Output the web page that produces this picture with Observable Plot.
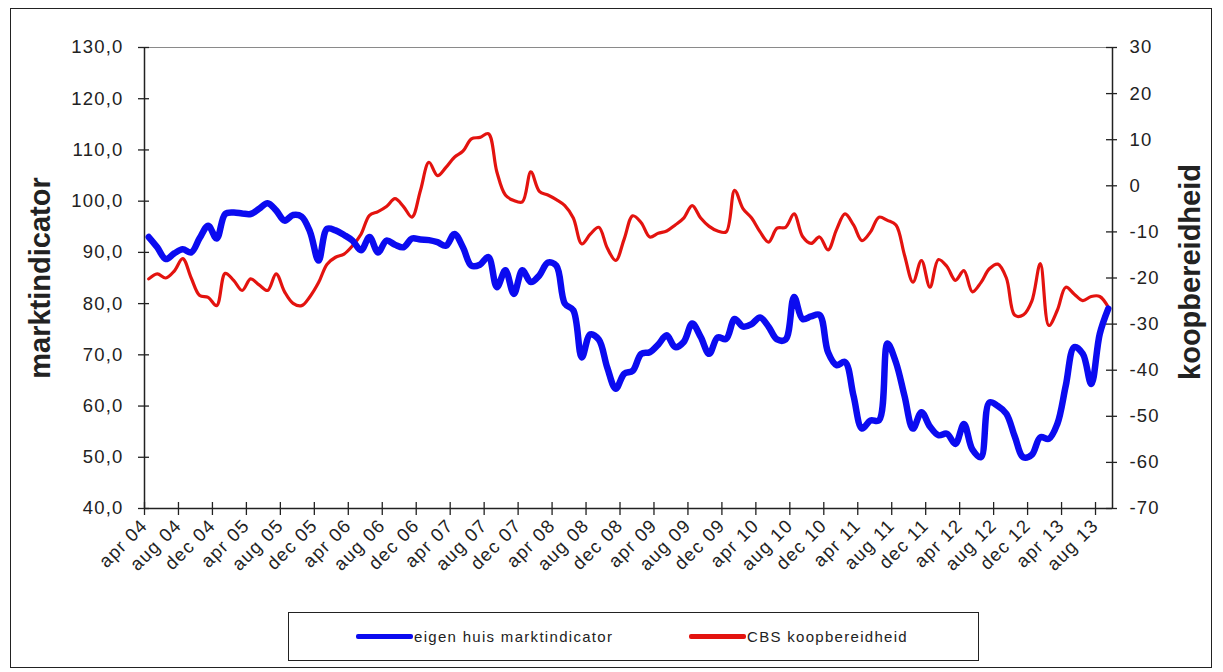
<!DOCTYPE html>
<html>
<head>
<meta charset="utf-8">
<script src="https://cdn.jsdelivr.net/npm/d3@7"></script>
<script src="https://cdn.jsdelivr.net/npm/@observablehq/plot@0.6"></script>
<style>
  body { margin: 0; background: #fff; font-family: "Liberation Sans", Arial, sans-serif; }
  #wrap { position: relative; width: 1223px; height: 672px; overflow: hidden; }
  #frame { position: absolute; left: 10px; top: 8px; width: 1202px; height: 660px; border: 1px solid #222; box-sizing: border-box; pointer-events: none; }
  #chart { position: absolute; left: 0; top: 0; }
  #legend { position: absolute; left: 288px; top: 612px; width: 691px; height: 49px; border: 1.5px solid #222; box-sizing: border-box; background: #fff; }
  .item { position: absolute; top: 0; height: 100%; display: flex; align-items: center; font-size: 15px; letter-spacing: 1.3px; color: #222; }
  .sw { display: inline-block; width: 57px; height: 5px; border-radius: 2px; margin-right: 1px; }
</style>
</head>
<body>
<div id="wrap">
  <div id="chart"></div>
  <div id="legend"></div>
  <div id="frame"></div>
</div>
<script>
// ---- Data (monthly, apr 2004 .. sep 2013) ----
const tickLabels = ["apr 04","aug 04","dec 04","apr 05","aug 05","dec 05","apr 06","aug 06","dec 06",
  "apr 07","aug 07","dec 07","apr 08","aug 08","dec 08","apr 09","aug 09","dec 09","apr 10","aug 10",
  "dec 10","apr 11","aug 11","dec 11","apr 12","aug 12","dec 12","apr 13","aug 13"];

// eigen huis marktindicator (left axis)
const marktindicator = [
  93.0, 91.0, 88.7, 89.8, 90.6, 90.0, 92.8, 95.2, 92.7, 97.5, 97.8, 97.6,
  97.5, 98.5, 99.6, 98.2, 96.2, 97.3, 97.0, 94.0, 88.4, 94.6, 94.3, 93.4,
  92.3, 90.4, 93.0, 90.0, 92.3, 91.5, 91.0, 92.7, 92.5, 92.4, 92.0, 91.3,
  93.6, 91.0, 87.4, 87.6, 89.1, 83.2, 86.5, 81.9, 86.5, 84.2, 85.5, 88.0,
  87.4, 80.0, 78.7, 69.5, 74.0, 73.0, 67.5, 63.4, 66.3, 66.9, 70.2, 70.5,
  72.0, 73.8, 71.5, 72.5, 76.1, 73.5, 70.2, 73.4, 73.1, 77.0, 75.5, 76.0,
  77.3, 75.5, 73.0, 73.0, 81.3, 77.0, 77.5, 77.8, 70.5, 68.0, 68.6, 62.0,
  55.6, 57.2, 57.2, 72.2, 68.5, 62.0, 55.6, 58.8, 56.0, 54.3, 54.6, 52.6,
  56.5, 51.5, 50.0, 60.7, 60.0, 58.5, 54.0, 50.0, 50.5, 53.9, 53.6, 56.5,
  64.0, 71.5, 70.2, 64.3, 74.1, 79.0
];

// CBS koopbereidheid (right axis)
const koopbereidheid = [
  -20.2, -19.1, -20.0, -18.5, -15.8, -20.0, -23.8, -24.2, -26.0, -19.0, -20.5, -22.7,
  -20.2, -21.5, -22.7, -19.1, -23.0, -25.5, -26.0, -24.0, -21.0, -17.0, -15.5, -14.8,
  -13.0, -10.5, -6.4, -5.6, -4.5, -2.8, -4.5, -6.8, -1.0, 5.1, 2.2, 4.0,
  6.2, 7.5, 10.2, 10.5, 11.3, 3.0, -2.0, -3.2, -3.5, 3.0, -1.2, -2.0,
  -3.0, -4.3, -7.0, -12.6, -10.5, -9.0, -13.5, -16.2, -11.5, -6.5, -8.0, -11.1,
  -10.3, -9.8, -8.5, -7.0, -4.3, -7.0, -8.8, -9.8, -10.0, -1.0, -5.0, -7.0,
  -10.0, -12.2, -9.2, -9.0, -6.1, -11.0, -12.5, -11.1, -13.9, -9.5, -6.1, -8.5,
  -11.9, -10.0, -6.8, -7.5, -8.5, -15.0, -20.9, -16.2, -22.0, -16.0, -17.5, -20.5,
  -18.4, -23.0, -21.0, -18.0, -17.0, -20.0, -28.1, -28.0, -25.0, -16.9, -30.3, -27.0,
  -22.0, -23.5, -24.9, -24.0, -24.0, -26.3
];

const leftTicks = [40, 50, 60, 70, 80, 90, 100, 110, 120, 130];
const rightTicks = [-70, -60, -50, -40, -30, -20, -10, 0, 10, 20, 30];

const seriesNames = ["eigen huis marktindicator", "CBS koopbereidheid"];
const seriesColors = ["#0b0bf0", "#e3130f"];
const axisTitles = ["marktindicator", "koopbereidheid"];

// ---- Layout ----
const W = 1223, H = 600;
const mL = 144, mR = 111, mT = 47, mB = 92;
const frameW = W - mL - mR, frameH = H - mT - mB;

// map the right-axis domain onto the left-axis domain
const L0 = leftTicks[0], L1 = leftTicks[leftTicks.length - 1];
const R0 = rightTicks[0], R1 = rightTicks[rightTicks.length - 1];
const toLeft = r => L0 + (r - R0) * (L1 - L0) / (R1 - R0);
const fromLeft = l => R0 + (l - L0) * (R1 - R0) / (L1 - L0);

const n = marktindicator.length;
const blue = marktindicator.map((v, i) => ({x: i + 0.5, y: v}));
const red = koopbereidheid.map((v, i) => ({x: i + 0.5, y: toLeft(v)}));
const xTicks = tickLabels.map((_, j) => j * 4);
const ink = "#222";
const font = "Liberation Sans, Arial, sans-serif";

const chart = Plot.plot({
  width: W, height: H,
  marginLeft: mL, marginRight: mR, marginTop: mT, marginBottom: mB,
  style: {fontFamily: font, background: "transparent", color: ink, overflow: "visible"},
  x: {type: "linear", domain: [0, n]},
  y: {domain: [L0, L1]},
  marks: [
    Plot.frame({anchor: "top", stroke: "#8a8a8a"}),
    // series
    Plot.line(red, {x: "x", y: "y", stroke: seriesColors[1], strokeWidth: 3.2, curve: "catmull-rom"}),
    Plot.line(blue, {x: "x", y: "y", stroke: seriesColors[0], strokeWidth: 6.5, curve: "catmull-rom"}),
    // axis lines
    Plot.ruleY([L0], {stroke: ink, strokeWidth: 1.5}),
    Plot.ruleX([0, n], {stroke: ink, strokeWidth: 1.5}),
    // crossing tick marks
    Plot.ruleX(xTicks, {stroke: ink, strokeWidth: 1.3, insetTop: frameH - 6, insetBottom: -7}),
    Plot.ruleY(leftTicks, {stroke: ink, strokeWidth: 1.3, insetRight: frameW - 5, insetLeft: -6}),
    Plot.ruleY(rightTicks.map(toLeft), {stroke: ink, strokeWidth: 1.3, insetLeft: frameW - 6, insetRight: -5}),
    // tick labels
    Plot.axisY(leftTicks, {anchor: "left", tickSize: 0, tickPadding: 21, label: null, fontSize: 18.5,
      tickFormat: v => v.toFixed(1).replace(".", ",")}),
    Plot.axisY(rightTicks.map(toLeft), {anchor: "right", tickSize: 0, tickPadding: 17, label: null, fontSize: 18.5,
      tickFormat: v => String(Math.round(fromLeft(v)))}),
    Plot.axisX(xTicks, {anchor: "bottom", tickSize: 0, tickPadding: 14, tickRotate: -45, label: null, fontSize: 18.5,
      tickFormat: v => tickLabels[v / 4]}),
    // axis titles
    Plot.text([axisTitles[0]], {frameAnchor: "left", textAnchor: "middle", dx: -104, dy: 0, rotate: -90, fontSize: 29, fontWeight: "bold", fill: ink}),
    Plot.text([axisTitles[1]], {frameAnchor: "right", textAnchor: "middle", dx: 78, dy: -6, rotate: -90, fontSize: 29, fontWeight: "bold", fill: ink})
  ]
});
chart.querySelectorAll("g[aria-label='y-axis tick label'] text, g[aria-label='x-axis tick label'] text").forEach(t => t.style.letterSpacing = "1.2px");
document.getElementById("chart").appendChild(chart);

// ---- Legend ----
const legend = document.getElementById("legend");
const itemLefts = [67, 400];
seriesNames.forEach((name, i) => {
  const it = document.createElement("div");
  it.className = "item";
  it.style.left = itemLefts[i] + "px";
  const sw = document.createElement("span");
  sw.className = "sw";
  sw.style.background = seriesColors[i];
  const tx = document.createElement("span");
  tx.textContent = name;
  it.appendChild(sw); it.appendChild(tx);
  legend.appendChild(it);
});
</script>
</body>
</html>
